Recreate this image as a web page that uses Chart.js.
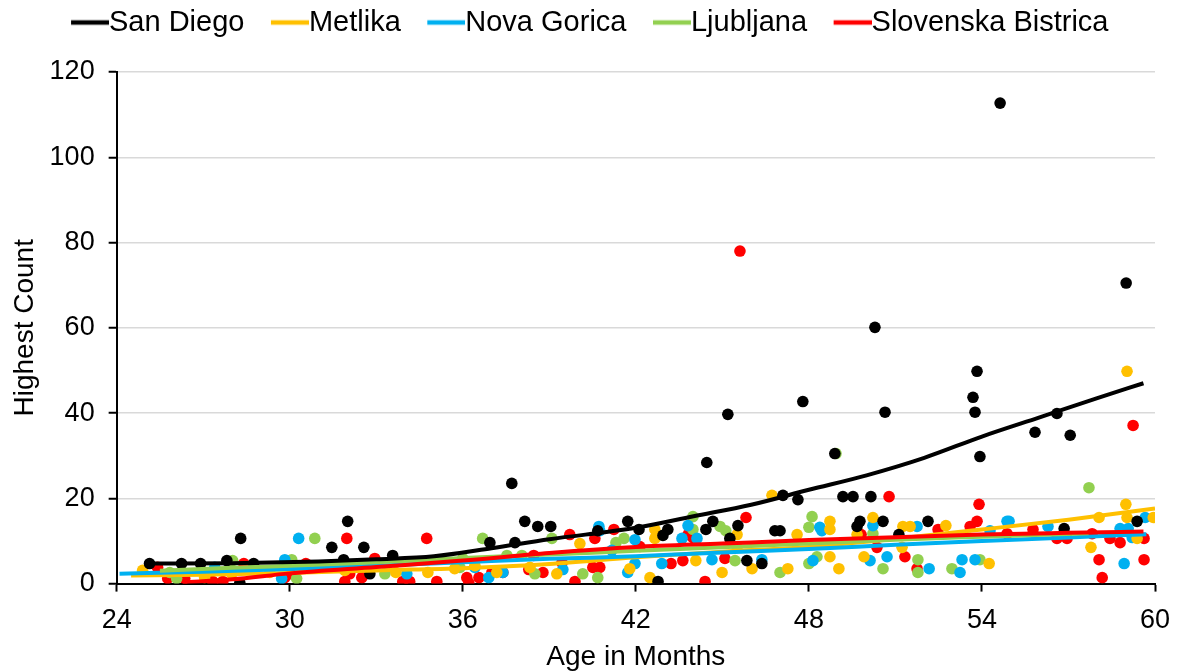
<!DOCTYPE html>
<html>
<head>
<meta charset="utf-8">
<script src="https://cdn.jsdelivr.net/npm/chart.js@4.4.1/dist/chart.umd.min.js"></script>
<style>
  html, body { margin: 0; padding: 0; background: #fff; }
  #wrap { width: 1188px; height: 671px; }
</style>
</head>
<body>
<div id="wrap"><canvas id="ageChart" width="1188" height="671"></canvas></div>
<script>
// series names and colours
const seriesNames = ['San Diego', 'Metlika', 'Nova Gorica', 'Ljubljana', 'Slovenska Bistrica'];
const seriesColors = ['#000000', '#FFC000', '#00B0F0', '#92D050', '#FF0000'];
const xTicks = [24, 30, 36, 42, 48, 54, 60];
const yTicks = [0, 20, 40, 60, 80, 100, 120];

// observed points [age in months, highest count]
const sanDiegoPts = [
  [25.14, 4.7], [26.25, 4.7], [26.91, 4.7], [27.82, 5.4], [28.30, 10.6], [28.75, 4.7], [28.27, 0.2],
  [31.46, 8.5], [32.01, 14.6], [31.87, 5.6], [32.57, 8.5], [32.78, 2.3], [33.57, 6.6], [36.94, 9.6],
  [37.81, 9.6], [37.70, 23.5], [38.15, 14.6], [38.60, 13.4], [39.05, 13.4], [40.68, 12.4], [41.72, 14.6],
  [42.11, 12.7], [42.77, 0.5], [43.11, 12.7], [42.94, 11.3], [44.46, 28.4], [44.43, 12.7], [44.67, 14.6],
  [45.26, 10.6], [45.54, 13.6], [45.19, 39.7], [45.85, 5.4], [46.37, 4.7], [46.82, 12.4], [47.00, 12.4],
  [47.10, 20.7], [47.62, 19.7], [47.79, 42.7], [48.90, 30.5], [49.18, 20.4], [49.53, 20.4], [50.15, 20.4],
  [50.29, 60.1], [49.77, 14.6], [49.67, 13.4], [50.57, 14.6], [50.64, 40.2], [51.12, 11.5], [52.13, 14.6],
  [53.83, 49.8], [53.69, 43.7], [53.76, 40.2], [53.93, 29.8], [54.63, 112.7], [55.84, 35.5], [56.60, 39.9],
  [56.85, 12.9], [57.06, 34.8], [59.00, 70.5], [59.38, 14.6]
];
const metlikaPts = [
  [24.90, 3.1], [27.05, 1.4], [27.99, 2.3], [29.31, 2.6], [30.35, 3.8], [31.91, 3.1], [33.68, 2.6],
  [34.79, 2.6], [35.72, 3.5], [36.42, 4.2], [37.18, 2.6], [38.33, 3.8], [39.26, 2.3], [40.06, 9.4],
  [41.79, 3.5], [42.49, 1.4], [42.66, 12.7], [42.66, 10.6], [44.08, 5.4], [44.99, 2.6], [45.51, 11.5],
  [45.51, 8.5], [46.03, 3.5], [46.72, 20.7], [47.27, 3.5], [47.59, 11.5], [48.73, 14.6], [48.73, 12.7],
  [48.73, 6.3], [49.04, 3.5], [49.67, 11.5], [49.91, 6.3], [50.22, 15.5], [51.26, 13.4], [51.51, 13.4],
  [51.23, 8.5], [52.75, 13.6], [54.25, 4.7], [57.78, 8.5], [58.06, 15.5], [58.99, 18.6], [59.03, 15.5],
  [59.03, 49.8], [59.94, 15.5], [59.38, 10.6]
];
const novaGoricaPts = [
  [27.40, 3.8], [29.72, 1.2], [29.83, 5.6], [30.31, 10.6], [32.08, 4.2], [34.06, 2.3], [36.42, 3.8],
  [36.90, 1.4], [37.39, 2.6], [39.47, 3.3], [40.72, 13.4], [40.75, 12.4], [41.17, 7.8], [41.72, 2.6],
  [41.97, 10.3], [41.97, 4.7], [42.90, 4.7], [43.60, 10.6], [43.81, 13.6], [44.12, 10.6], [44.64, 5.6],
  [46.37, 5.6], [48.14, 5.4], [48.38, 13.2], [48.45, 12.4], [50.22, 13.6], [50.12, 5.4], [50.71, 6.3],
  [51.75, 13.4], [52.17, 3.5], [53.24, 2.6], [53.31, 5.6], [53.76, 5.6], [54.28, 12.4], [54.87, 14.6],
  [54.94, 14.6], [56.29, 13.4], [58.79, 12.9], [59.07, 12.9], [59.21, 10.8], [58.93, 4.7], [59.66, 15.5]
];
const ljubljanaPts = [
  [25.84, 2.6], [26.08, 1.2], [28.02, 5.4], [30.07, 5.6], [30.24, 1.2], [30.87, 10.6], [33.30, 2.3],
  [35.90, 3.8], [36.00, 5.9], [36.69, 10.6], [37.53, 6.6], [38.05, 6.6], [38.50, 2.3], [39.09, 10.6],
  [40.16, 2.3], [40.68, 1.4], [41.31, 9.6], [41.59, 10.6], [43.98, 15.7], [43.98, 12.7], [44.92, 13.4],
  [45.12, 12.4], [45.44, 5.4], [47.00, 2.6], [48.00, 4.7], [48.11, 15.7], [48.00, 13.2], [48.28, 6.3],
  [48.94, 30.5], [50.22, 11.7], [50.57, 3.5], [51.78, 5.6], [51.78, 2.6], [52.96, 3.5], [53.93, 5.6],
  [57.71, 22.5]
];
const bistricaPts = [
  [25.42, 3.8], [25.77, 1.2], [26.36, 1.2], [27.33, 0.5], [27.68, 0.5], [28.41, 4.7], [29.83, 1.4],
  [30.07, 2.3], [30.56, 4.7], [31.98, 10.6], [31.91, 0.5], [32.08, 2.3], [32.50, 1.4], [32.95, 5.9],
  [33.92, 0.5], [34.16, 0.5], [34.75, 10.6], [35.10, 0.5], [36.14, 1.4], [36.21, 0.2], [36.56, 1.4],
  [37.01, 2.6], [37.39, 2.6], [38.29, 3.3], [38.46, 6.6], [38.78, 2.6], [39.44, 4.9], [39.71, 11.5],
  [39.89, 0.5], [40.51, 3.8], [40.75, 3.8], [40.58, 10.6], [41.24, 12.7], [42.14, 8.7], [43.22, 4.7],
  [43.63, 5.4], [43.81, 11.5], [43.98, 10.8], [44.40, 0.5], [45.09, 5.9], [45.82, 15.5], [45.61, 78.0],
  [49.81, 11.5], [50.36, 8.5], [50.78, 20.4], [51.33, 6.3], [51.75, 3.5], [52.48, 12.7], [53.59, 13.4],
  [53.83, 14.6], [53.90, 18.6], [54.87, 11.7], [55.77, 12.7], [56.60, 10.6], [56.95, 10.6], [57.82, 11.7],
  [58.06, 5.6], [58.17, 1.4], [58.44, 10.6], [58.79, 9.6], [59.24, 37.1], [59.62, 10.6], [59.62, 5.6]
];

// fitted trend lines
const sanDiegoTrend = [[25.1, 4.7], [28, 4.8], [31, 5.2], [33, 5.7], [35, 6.4], [37, 8.3], [39, 10.4],
  [42, 13.1], [44, 15.8], [46, 18.5], [48, 22], [50, 25.4], [52, 29.5], [54, 34.5], [56, 39], [58, 43.5],
  [59.6, 47]];
const metlikaTrend = [[24.5, 1.9], [27, 2.1], [30, 2.5], [33, 3.1], [36, 3.6], [39, 4.6], [42, 6.2],
  [45, 7.5], [48, 8.6], [51, 10.5], [54, 12.7], [57, 15], [60, 17.6]];
const novaGoricaTrend = [[24.1, 2.3], [27, 2.8], [30, 3.4], [33, 4.2], [36, 5.0], [39, 5.8], [42, 6.4],
  [45, 7.3], [48, 8.1], [51, 9.1], [54, 10.0], [57, 10.8], [59.7, 11.6]];
const ljubljanaTrend = [[25.5, 3.0], [28, 3.7], [30, 4.2], [33, 5.0], [36, 6.0], [39, 6.8], [42, 7.7],
  [45, 8.5], [48, 9.4], [51, 10.3], [54, 11.0], [57.7, 11.8]];
const bistricaTrend = [[26.3, 0.3], [28, 1.0], [30, 2.4], [33, 3.9], [36, 5.4], [39, 7.2], [42, 8.6],
  [45, 9.4], [48, 10.2], [51, 10.9], [54, 11.5], [57, 11.9], [59.6, 12.2]];

const pointSets = [sanDiegoPts, metlikaPts, novaGoricaPts, ljubljanaPts, bistricaPts];
const trendSets = [sanDiegoTrend, metlikaTrend, novaGoricaTrend, ljubljanaTrend, bistricaTrend];
const lineOrder = [0, 4, 3, 2, 1]; // black on top, then red, green, blue, yellow

const toXY = arr => arr.map(p => ({ x: p[0], y: p[1] }));
const font = 'Liberation Sans, Arial, sans-serif';
const legendSize = 29;
const legendBox = 40;

// legend swatch: a short thick line that runs right up to the label text
function legendSwatch(color) {
  const c = document.createElement('canvas');
  c.width = legendBox + legendSize; // centred on the box, so it reaches the text
  c.height = 8;
  const g = c.getContext('2d');
  g.strokeStyle = color;
  g.lineWidth = 4.5;
  g.beginPath();
  g.moveTo(c.width - 38, 4);
  g.lineTo(c.width, 4);
  g.stroke();
  return c;
}

const datasets = [];
trendSets.forEach((t, i) => {
  datasets.push({
    type: 'line',
    label: seriesNames[i],
    data: toXY(t),
    borderColor: seriesColors[i],
    backgroundColor: seriesColors[i],
    borderWidth: 4,
    pointRadius: 0,
    pointStyle: legendSwatch(seriesColors[i]),
    showLine: true,
    fill: false,
    cubicInterpolationMode: 'monotone',
    order: lineOrder[i]
  });
});
pointSets.forEach((p, i) => {
  datasets.push({
    type: 'scatter',
    label: seriesNames[i] + ' data',
    data: toXY(p),
    backgroundColor: seriesColors[i],
    borderWidth: 0,
    pointRadius: 5.8,
    pointStyle: 'circle',
    order: 10
  });
});

// push the plot down below the legend, and nudge the legend a little right
const legendGap = {
  id: 'legendGap',
  beforeInit(chart) {
    const fit = chart.legend.fit;
    chart.legend.fit = function() {
      fit.bind(chart.legend)();
      this.height += 25;
    };
  },
  afterLayout(chart) {
    chart.legend.left += 8;
    chart.legend.right += 8;
  }
};

new Chart(document.getElementById('ageChart').getContext('2d'), {
  type: 'scatter',
  data: { datasets: datasets },
  plugins: [legendGap],
  options: {
    responsive: false,
    animation: false,
    layout: { padding: { left: -8, right: 33, top: -2, bottom: 0 } },
    plugins: {
      tooltip: { enabled: false },
      legend: {
        position: 'top',
        labels: {
          filter: item => item.datasetIndex < 5,
          sort: (a, b) => a.datasetIndex - b.datasetIndex,
          usePointStyle: true,
          pointStyleWidth: legendBox,
          color: '#000',
          padding: 10,
          font: { family: font, size: legendSize }
        }
      }
    },
    scales: {
      x: {
        type: 'linear',
        min: 24,
        max: 60,
        afterBuildTicks: axis => { axis.ticks = xTicks.map(v => ({ value: v })); },
        ticks: { color: '#000', padding: 13, font: { family: font, size: 27 } },
        grid: { drawOnChartArea: false, tickLength: 8, tickColor: '#000', tickWidth: 2 },
        border: { color: '#000', width: 2 },
        title: { display: true, text: 'Age in Months', color: '#000', padding: { top: -7, bottom: 0 },
                 font: { family: font, size: 28, lineHeight: 1.0 } }
      },
      y: {
        min: 0,
        max: 120,
        afterBuildTicks: axis => { axis.ticks = yTicks.map(v => ({ value: v })); },
        ticks: { color: '#000', padding: 14, font: { family: font, size: 27 } },
        grid: { color: '#d9d9d9', lineWidth: 1.5, tickLength: 8, tickColor: '#000', tickWidth: 2 },
        border: { color: '#000', width: 2 },
        title: { display: true, text: 'Highest Count', color: '#000', padding: { top: 16, bottom: -6 },
                 font: { family: font, size: 28 } }
      }
    }
  }
});
</script>
</body>
</html>
